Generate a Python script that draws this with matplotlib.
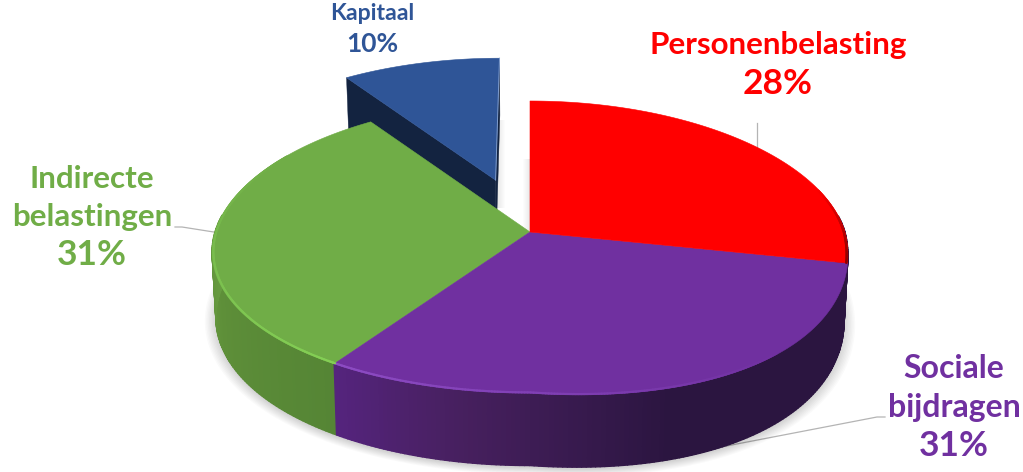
import numpy as np
import matplotlib
matplotlib.use("Agg")
import matplotlib.pyplot as plt
from matplotlib.collections import PolyCollection, LineCollection
from matplotlib.colors import to_rgb

# ---------- data ----------
categories = ["Personenbelasting", "Sociale\nbijdragen", "Indirecte\nbelastingen", "Kapitaal"]
values = [27.9, 31.4, 31.2, 9.5]
colors = ["#FF0000", "#7030A0", "#70AD47", "#2F5597"]
explode = [0, 0, 0, 0.39]

# ---------- layout ----------
CX, CY, RX, RY, K, KX, DEPTH, WARP = 530, 232, 315, 144.5, 0.103, 0.135, 65, 25
W, H = 1023, 472

fig = plt.figure(figsize=(W / 100, H / 100), dpi=100, facecolor="white")
ax = fig.add_axes([0, 0, 1, 1])
ax.set_xlim(0, W)
ax.set_ylim(H, 0)
ax.axis("off")


def project(x, u, h=0.0):
    s = 1 / (1 + K * u)
    sx = 1 / (1 + KX * u)
    shrink = 1 - 0.012 * h / DEPTH
    warp = WARP * np.clip(x, 0, None) * np.clip(-u, 0, None)
    return CX + RX * x * sx * shrink, CY - RY * u * s + h * s + warp


def poly(x, u, h=0.0):
    px, py = project(np.asarray(x, float), np.asarray(u, float), h)
    return np.column_stack([px, py])


def mix(a, b, f):
    a, b = np.array(to_rgb(a)), np.array(to_rgb(b))
    return tuple(a + (b - a) * np.clip(f, 0, 1))


fractions = np.array(values) / np.sum(values)
edges = np.concatenate([[0], np.cumsum(fractions)]) * 2 * np.pi


def arc(t0, t1, n=160):
    return np.linspace(t0, t1, n)


def wedge(i, n=160):
    t = arc(edges[i], edges[i + 1], n)
    e = explode[i]
    mid = (edges[i] + edges[i + 1]) / 2
    ox, ou = e * np.sin(mid), e * np.cos(mid)
    xs = np.concatenate([[ox], np.sin(t) + ox])
    us = np.concatenate([[ou], np.cos(t) + ou])
    return xs, us, ox, ou, t


# ---------- soft shadows ----------
t_sh = arc(np.radians(75), np.radians(285), 200)
for r in np.linspace(1.035, 1.0, 9):
    pts = poly(r * np.sin(t_sh), r * np.cos(t_sh), DEPTH + 2)
    ax.fill(pts[:, 0], pts[:, 1], color="black", alpha=0.018, lw=0, zorder=1)

# faint shadows beside the exploded slice and the red slice
xs3, us3, ox3, ou3, t3 = wedge(3)
right3 = poly([ox3, ox3 + np.sin(edges[4])], [ou3, ou3 + np.cos(edges[4])])
for d in np.arange(1, 10):
    ax.fill_betweenx([right3[1, 1] + 62, right3[0, 1] + 28], right3[0, 0], right3[0, 0] + d,
                     color="black", alpha=0.012, lw=0, zorder=1)
apex = poly([0], [0])[0]
top0 = poly([0], [1])[0]
for d in np.arange(1, 8):
    ax.fill_betweenx([top0[1] + 58, apex[1]], apex[0] - d, apex[0],
                     color="black", alpha=0.012, lw=0, zorder=1)

# ---------- exploded slice ----------
side_blue = "#132340"
face_pts = []
for ang in (edges[3], edges[4]):
    ex, eu = [ox3, ox3 + np.sin(ang)], [ou3, ou3 + np.cos(ang)]
    face_pts.append(np.vstack([poly(ex, eu), poly(ex[::-1], eu[::-1], DEPTH)]))
ax.add_collection(PolyCollection(face_pts, facecolors=side_blue, edgecolors=side_blue, linewidths=0.3, zorder=2))
top3 = poly(xs3, us3)
ax.fill(top3[:, 0], top3[:, 1], color=colors[3], lw=0.4, ec=colors[3], zorder=3)
ax.plot(right3[:, 0], right3[:, 1], color="#7f9ccc", lw=0.7, zorder=3)

# ---------- outer walls of the main pie ----------
stops = {
    0: [(0.0, "#2b1540"), (1.0, "#2b1540")],
    1: [(0.0, "#2b1540"), (0.5, "#2b1540"), (0.8, "#47205f"), (1.0, "#55247e")],
    2: [(0.0, "#558535"), (0.55, "#5e8f39"), (1.0, "#689d41")],
}
for i in (0, 2, 1):
    t = arc(edges[i], edges[i + 1], 150)
    t = t[np.cos(t) < 0.12]
    if len(t) < 2:
        continue
    quads, cols = [], []
    f = (t - t[0]) / (t[-1] - t[0])
    pos, cs = zip(*stops[i])
    rgb = np.array([to_rgb(c) for c in cs])
    for j in range(len(t) - 1):
        x2, u2 = np.sin(t[j:j + 2]), np.cos(t[j:j + 2])
        quads.append(np.vstack([poly(x2, u2), poly(x2[::-1], u2[::-1], DEPTH)]))
        cols.append([np.interp(f[j], pos, rgb[:, k]) for k in range(3)])
    ax.add_collection(PolyCollection(quads, facecolors=cols, edgecolors=cols, linewidths=1.0, zorder=4))

# ---------- tops of the main pie ----------
for i in (2, 1, 0):
    xs, us, _, _, _ = wedge(i, 240)
    pts = poly(xs, us)
    ax.fill(pts[:, 0], pts[:, 1], color=colors[i], lw=0.4, ec=colors[i], zorder=5)

# ---------- bevel highlights ----------
bevels = [
    (1, "#8d4cc4", "#7030A0", 0.0, 0.7),
    (2, "#84cf55", "#70AD47", 0.0, 0.8),
    (0, "#8a0000", "#FF0000", 0.72, 1.0),
]
for i, c0, c1, lo, hi in bevels:
    t = arc(edges[i], edges[i + 1], 240)
    pts = poly(np.sin(t) * 0.996, np.cos(t) * 0.996)
    f = (t - t[0]) / (t[-1] - t[0])
    segs, cols = [], []
    for j in range(len(t) - 1):
        if i == 1:
            frac = 1 - f[j]
            if frac > hi:
                continue
            col = mix(c0, c1, frac / hi)
        elif i == 2:
            if f[j] > hi:
                continue
            col = mix(c0, c1, f[j] / hi)
        else:
            if f[j] < lo:
                continue
            col = mix(c1, c0, (f[j] - lo) / (hi - lo))
        segs.append(pts[j:j + 2])
        cols.append(col)
    ax.add_collection(LineCollection(segs, colors=cols, linewidths=1.6, zorder=6, capstyle="round"))

# ---------- leader lines ----------
leader = "#b4b4b4"
ax.plot([757, 757], [123, 150], color=leader, lw=0.9, zorder=0)
ax.plot([175, 182, 220], [227, 227, 233], color=leader, lw=0.9, zorder=0)
ax.plot([885, 877, 690], [417, 417, 453], color=leader, lw=0.9, zorder=0)

# ---------- labels ----------
font = "Lato"
# x centre, y of the name block, y of the percentage, name size, percent size
label_pos = [
    (778, 45, 84, 22.6, 25.5),
    (954, 388, 446, 23.0, 25.5),
    (92, 198, 255, 22.6, 25.5),
    (372, 14, 44, 16.6, 19),
]
for name, v, col, (lx, ny, py, fs, pfs) in zip(categories, values, colors, label_pos):
    ax.text(lx, ny, name, color=col, fontsize=fs, fontweight="bold", family=font,
            ha="center", va="center", linespacing=1.4, zorder=7)
    ax.text(lx, py, f"{round(v)}%", color=col, fontsize=pfs, fontweight="bold", family=font,
            ha="center", va="center", zorder=7)

fig.savefig("out.png", dpi=100, facecolor="white")
